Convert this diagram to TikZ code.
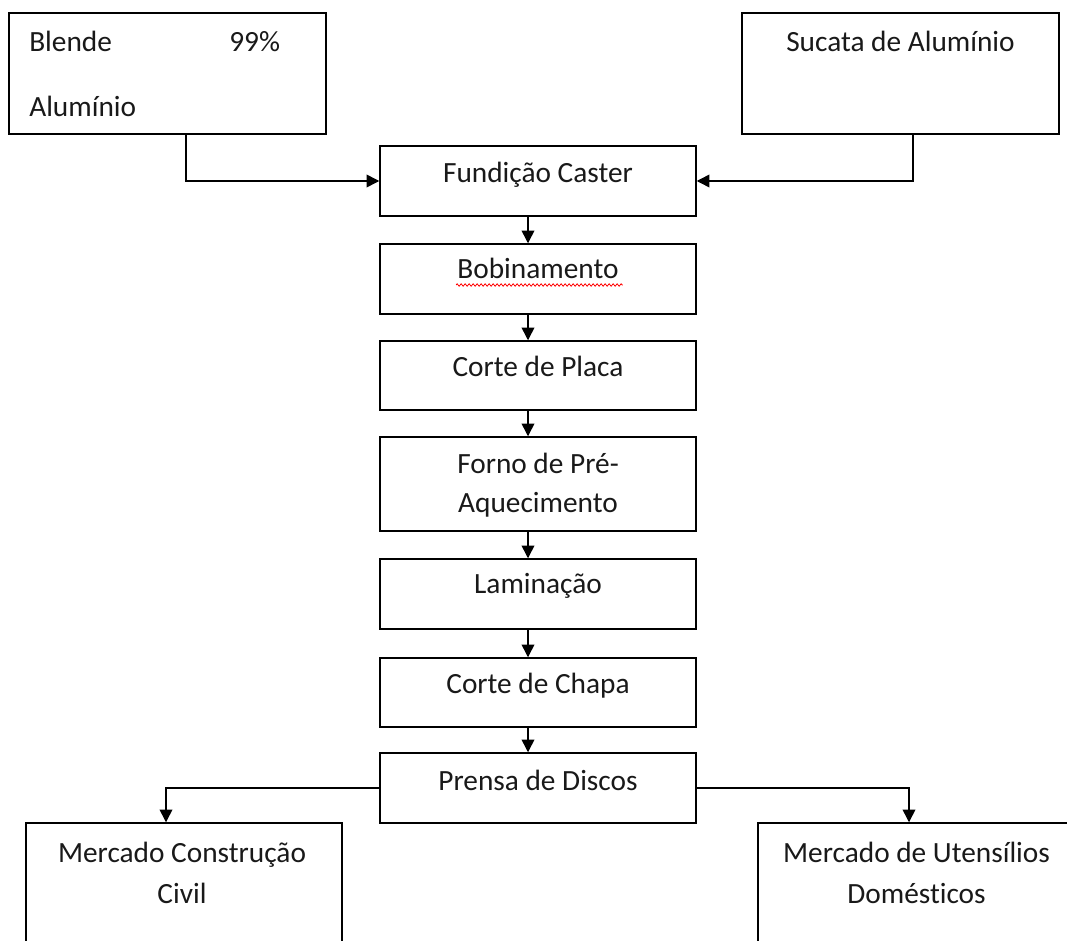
\documentclass[tikz,border=0pt]{standalone}
\usepackage{fontspec}
\setmainfont{Carlito}[RawFeature={-liga;-clig;-dlig;-calt}]
\usetikzlibrary{arrows.meta,calc,fit,decorations.pathmorphing}

\tikzset{
  box/.style={draw=black, line width=1.1pt, inner sep=0pt, fill=white},
  txt/.style={inner sep=0pt, font=\fontsize{22}{29}\selectfont, text=black!90},
  arr/.style={draw=black, line width=1.1pt, -{Triangle[length=9.5pt,width=9.5pt]}},
  spell/.style={draw=red, line width=0.6pt, decorate,
    decoration={zigzag, segment length=3pt, amplitude=0.9pt}},
}

\begin{document}
\begin{tikzpicture}[x=0.75pt, y=-0.75pt]
  \useasboundingbox (0,0) rectangle (1067,941);
  \clip (0,0) rectangle (1067,941);

  % raw materials
  \node[box, fit={(9,13) (326,134)}] (blende) {};
  \node[box, fit={(742,13) (1059,134)}] (sucata) {};

  % process chain
  \node[box, fit={(380,146) (696,216)}] (fundicao) {};
  \node[box, fit={(380,244) (696,314)}] (bob) {};
  \node[box, fit={(380,341) (696,410)}] (placa) {};
  \node[box, fit={(380,437) (696,531)}] (forno) {};
  \node[box, fit={(380,559) (696,629)}] (lamin) {};
  \node[box, fit={(380,658) (696,727)}] (chapa) {};
  \node[box, fit={(380,753) (696,823)}] (prensa) {};

  % markets
  \node[box, fit={(26,823) (342,985)}] (construcao) {};
  \node[box, fit={(758,823) (1075,985)}] (utensilios) {};

  % labels
  \node[txt, anchor=base west] (tblende) at (29,52) {Blende};
  \node[txt, anchor=base west] (tpct) at (229,52) {99\%};
  \node[txt, anchor=base west] (talum) at (29,117) {Alumínio};
  \node[txt, anchor=base] (tsucata) at (900.5,52) {Sucata de Alumínio};
  \node[txt, anchor=base] (tfund) at (538,183) {Fundição Caster};
  \node[txt, anchor=base] (tbob) at (538,278) {Bobinamento};
  \node[txt, anchor=base] (tplaca) at (538,376) {Corte de Placa};
  \node[txt, anchor=base] (tforno1) at (538,473) {Forno de Pré-};
  \node[txt, anchor=base] (tforno2) at (538,512) {Aquecimento};
  \node[txt, anchor=base] (tlamin) at (538,593) {Laminação};
  \node[txt, anchor=base] (tchapa) at (538,693) {Corte de Chapa};
  \node[txt, anchor=base] (tprensa) at (538,790) {Prensa de Discos};
  \node[txt, anchor=base] (tcons1) at (182,862) {Mercado Construção};
  \node[txt, anchor=base] (tcons2) at (182,903) {Civil};
  \node[txt, anchor=base] (tuten1) at (916.5,862) {Mercado de Utensílios};
  \node[txt, anchor=base] (tuten2) at (916.5,903) {Domést\kern0pt icos};

  % spell-check squiggle
  \draw[spell] ($(tbob.base west)+(-1,7)$) -- ($(tbob.base east)+(4,7)$);

  % connectors
  \draw[arr] ($(blende.south)+(18.5,0)$) |- (fundicao.west);
  \draw[arr] ($(sucata.south)+(12.5,0)$) |- (fundicao.east);
  \draw[arr] ($(fundicao.south)+(-10,0)$) -- ($(bob.north)+(-10,0)$);
  \draw[arr] ($(bob.south)+(-10,0)$) -- ($(placa.north)+(-10,0)$);
  \draw[arr] ($(placa.south)+(-10,0)$) -- ($(forno.north)+(-10,0)$);
  \draw[arr] ($(forno.south)+(-10,0)$) -- ($(lamin.north)+(-10,0)$);
  \draw[arr] ($(lamin.south)+(-10,0)$) -- ($(chapa.north)+(-10,0)$);
  \draw[arr] ($(chapa.south)+(-10,0)$) -- ($(prensa.north)+(-10,0)$);
  \draw[arr] (prensa.west) -| ($(construcao.north)+(-18,0)$);
  \draw[arr] (prensa.east) -| ($(utensilios.north)+(-7.5,0)$);
\end{tikzpicture}
\end{document}
